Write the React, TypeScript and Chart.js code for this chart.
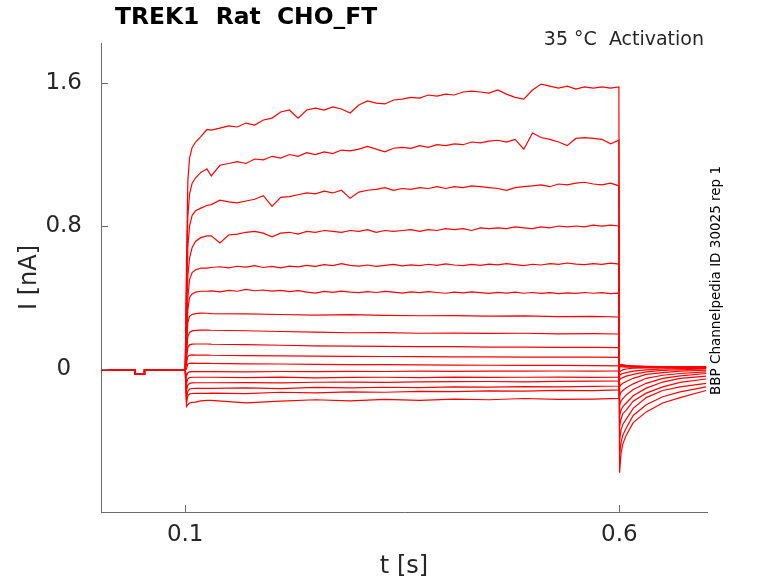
import { useEffect, useRef } from "react"
import { Chart, registerables } from "chart.js"

Chart.register(...registerables)

const AXIS_GREY = "#6b6b6b"
const TEXT_DARK = "#262626"
const TRACE_RED = "#ff0000"

const titleText = "TREK1  Rat  CHO_FT"
const conditionText = "35 °C  Activation"
const sideText = "BBP Channelpedia ID 30025 rep 1"

const xTickValues = [0.1, 0.6]
const yTickValues = [0, 0.8, 1.6]

// holding period, identical for every sweep
const preTimes = [0, 0.042, 0.0421, 0.053, 0.0531, 0.0995]
const preCurrent = [-0.006, -0.006, -0.03, -0.03, -0.006, -0.006]

const onsetTimes = [0.1, 0.1015, 0.103, 0.105, 0.108, 0.112, 0.118, 0.125]

const stepTimesFine = [
  0.13, 0.14, 0.15, 0.16, 0.17, 0.18, 0.19, 0.2, 0.21, 0.22,
  0.23, 0.24, 0.25, 0.26, 0.27, 0.28, 0.29, 0.3, 0.31, 0.32,
  0.33, 0.34, 0.35, 0.36, 0.37, 0.38, 0.39, 0.4, 0.41, 0.42,
  0.43, 0.44, 0.45, 0.46, 0.47, 0.48, 0.49, 0.5, 0.51, 0.52,
  0.53, 0.54, 0.55, 0.56, 0.57, 0.58, 0.59, 0.5995,
]
const stepTimesCoarse = [0.13, 0.17, 0.21, 0.25, 0.29, 0.33, 0.37, 0.41, 0.45, 0.49, 0.53, 0.57, 0.5995]

const tailTimes = [0.6003, 0.602, 0.604, 0.608, 0.616, 0.631, 0.65, 0.67, 0.7]

// current in nA, one row per sweep (largest first)
const onsetCurrents = [
  [-0.006, 0.6, 1.05, 1.18, 1.24, 1.27, 1.3, 1.34],
  [-0.006, 0.5, 0.85, 0.98, 1.04, 1.07, 1.1, 1.12],
  [-0.006, 0.4, 0.68, 0.8, 0.86, 0.885, 0.9, 0.915],
  [-0.006, 0.3, 0.52, 0.62, 0.68, 0.715, 0.735, 0.745],
  [-0.006, 0.2, 0.4, 0.5, 0.54, 0.555, 0.565, 0.565],
  [-0.006, 0.15, 0.33, 0.4, 0.42, 0.43, 0.435, 0.435],
  [-0.006, 0.12, 0.26, 0.295, 0.305, 0.31, 0.313, 0.312],
  [-0.006, 0.09, 0.18, 0.205, 0.213, 0.216, 0.218, 0.218],
  [-0.006, 0.06, 0.12, 0.135, 0.139, 0.14, 0.14, 0.14],
  [-0.006, 0.03, 0.07, 0.077, 0.079, 0.078, 0.078, 0.078],
  [-0.006, 0.0, 0.028, 0.032, 0.033, 0.032, 0.032, 0.032],
  [-0.006, -0.04, -0.02, -0.016, -0.015, -0.015, -0.015, -0.015],
  [-0.006, -0.08, -0.055, -0.048, -0.046, -0.046, -0.046, -0.046],
  [-0.006, -0.12, -0.09, -0.08, -0.078, -0.077, -0.077, -0.077],
  [-0.006, -0.16, -0.125, -0.112, -0.109, -0.108, -0.108, -0.108],
  [-0.006, -0.19, -0.15, -0.14, -0.137, -0.136, -0.136, -0.136],
  [-0.006, -0.21, -0.2, -0.19, -0.187, -0.185, -0.178, -0.175],
]

const stepCurrents = [
  [
    1.337, 1.348, 1.36, 1.354, 1.376, 1.365, 1.393, 1.404, 1.438, 1.449,
    1.404, 1.449, 1.46, 1.449, 1.466, 1.455, 1.432, 1.477, 1.5, 1.488,
    1.483, 1.505, 1.51, 1.52, 1.516, 1.533, 1.527, 1.538, 1.533, 1.55,
    1.555, 1.55, 1.544, 1.561, 1.538, 1.52, 1.51, 1.561, 1.594, 1.583,
    1.572, 1.583, 1.566, 1.578, 1.572, 1.578, 1.572, 1.578,
  ],
  [
    1.08, 1.14, 1.15, 1.16, 1.15, 1.175, 1.17, 1.19, 1.18, 1.2,
    1.19, 1.21, 1.2, 1.215, 1.205, 1.225, 1.22, 1.23, 1.245, 1.23,
    1.215, 1.235, 1.24, 1.235, 1.25, 1.24, 1.255, 1.25, 1.26, 1.255,
    1.27, 1.265, 1.275, 1.28, 1.27, 1.285, 1.23, 1.32, 1.295, 1.285,
    1.27, 1.25, 1.29, 1.295, 1.29, 1.285, 1.26, 1.28,
  ],
  [
    0.92, 0.945, 0.935, 0.93, 0.94, 0.95, 0.97, 0.91, 0.96, 0.965,
    0.975, 0.985, 0.98, 0.995, 0.985, 1.0, 0.955, 0.99, 1.0, 1.005,
    1.015, 1.0, 1.01, 1.005, 1.015, 1.01, 1.02, 1.01, 1.02, 1.015,
    1.025, 1.02, 1.015, 1.01, 1.0, 1.015, 1.02, 1.025, 1.03, 1.02,
    1.035, 1.03, 1.04, 1.045, 1.035, 1.03, 1.04, 1.025,
  ],
  [
    0.745, 0.705, 0.75, 0.755, 0.765, 0.77, 0.76, 0.74, 0.76, 0.765,
    0.755, 0.77, 0.765, 0.775, 0.77, 0.765, 0.775, 0.77, 0.78, 0.765,
    0.775, 0.77, 0.775, 0.78, 0.77, 0.78, 0.775, 0.785, 0.78, 0.785,
    0.775, 0.79, 0.785, 0.79, 0.785, 0.795, 0.79, 0.785, 0.795, 0.79,
    0.8, 0.795, 0.8, 0.795, 0.805, 0.8, 0.805, 0.8,
  ],
  [
    0.568, 0.572, 0.566, 0.575, 0.57, 0.578, 0.568, 0.574, 0.566, 0.576,
    0.572, 0.58, 0.574, 0.584, 0.578, 0.59, 0.58, 0.576, 0.582, 0.574,
    0.58, 0.585, 0.577, 0.583, 0.578, 0.586, 0.58, 0.588, 0.582, 0.578,
    0.585, 0.58, 0.587, 0.583, 0.59, 0.584, 0.579, 0.586, 0.582, 0.59,
    0.585, 0.593, 0.587, 0.584, 0.59, 0.586, 0.592, 0.587,
  ],
  [
    0.437, 0.432, 0.44, 0.435, 0.446, 0.438, 0.442, 0.436, 0.44, 0.433,
    0.438, 0.43, 0.425, 0.434, 0.429, 0.436, 0.43, 0.427, 0.433, 0.428,
    0.434, 0.43, 0.425, 0.431, 0.427, 0.433, 0.428, 0.424, 0.43, 0.426,
    0.431, 0.427, 0.423, 0.429, 0.425, 0.43, 0.424, 0.428, 0.423, 0.427,
    0.422, 0.426, 0.423, 0.428, 0.424, 0.427, 0.422, 0.425,
  ],
  [0.31, 0.308, 0.305, 0.302, 0.304, 0.3, 0.298, 0.299, 0.296, 0.297, 0.293, 0.295, 0.291],
  [0.217, 0.214, 0.21, 0.206, 0.203, 0.204, 0.2, 0.201, 0.199, 0.2, 0.197, 0.198, 0.196],
  [0.139, 0.136, 0.133, 0.13, 0.128, 0.127, 0.125, 0.125, 0.123, 0.122, 0.121, 0.121, 0.12],
  [0.077, 0.075, 0.074, 0.072, 0.071, 0.07, 0.069, 0.068, 0.068, 0.067, 0.066, 0.066, 0.065],
  [0.031, 0.029, 0.028, 0.026, 0.025, 0.024, 0.023, 0.022, 0.021, 0.02, 0.02, 0.019, 0.018],
  [-0.015, -0.016, -0.014, -0.015, -0.013, -0.014, -0.012, -0.013, -0.012, -0.012, -0.011, -0.012, -0.011],
  [-0.046, -0.048, -0.045, -0.05, -0.047, -0.046, -0.048, -0.045, -0.047, -0.046, -0.045, -0.047, -0.046],
  [-0.077, -0.076, -0.078, -0.074, -0.073, -0.075, -0.072, -0.071, -0.07, -0.072, -0.069, -0.068, -0.067],
  [-0.108, -0.105, -0.11, -0.103, -0.106, -0.102, -0.104, -0.1, -0.101, -0.098, -0.1, -0.097, -0.095],
  [-0.135, -0.138, -0.13, -0.133, -0.128, -0.13, -0.125, -0.127, -0.122, -0.124, -0.12, -0.121, -0.117],
  [-0.175, -0.19, -0.18, -0.172, -0.178, -0.17, -0.175, -0.168, -0.172, -0.165, -0.17, -0.168, -0.164],
]

const tailCurrents = [
  [-0.58, -0.47, -0.42, -0.37, -0.3, -0.24, -0.19, -0.16, -0.12],
  [-0.48, -0.41, -0.37, -0.33, -0.26, -0.2, -0.155, -0.128, -0.1],
  [-0.4, -0.34, -0.31, -0.28, -0.22, -0.16, -0.12, -0.1, -0.08],
  [-0.32, -0.28, -0.25, -0.23, -0.18, -0.135, -0.1, -0.075, -0.056],
  [-0.26, -0.23, -0.21, -0.19, -0.15, -0.107, -0.073, -0.052, -0.04],
  [-0.2, -0.18, -0.165, -0.145, -0.115, -0.08, -0.052, -0.038, -0.025],
  [-0.15, -0.13, -0.12, -0.105, -0.083, -0.052, -0.035, -0.025, -0.016],
  [-0.1, -0.088, -0.08, -0.07, -0.052, -0.03, -0.02, -0.012, -0.007],
  [-0.06, -0.052, -0.048, -0.04, -0.03, -0.016, -0.008, -0.004, 0.0],
  [-0.035, -0.03, -0.025, -0.02, -0.012, -0.005, 0.0, 0.002, 0.003],
  [-0.015, -0.01, -0.005, 0.0, 0.005, 0.006, 0.008, 0.006, 0.008],
  [0.012, 0.014, 0.012, 0.011, 0.01, 0.009, 0.008, 0.008, 0.007],
  [0.016, 0.018, 0.016, 0.014, 0.012, 0.011, 0.01, 0.009, 0.009],
  [0.018, 0.02, 0.018, 0.016, 0.014, 0.012, 0.011, 0.01, 0.01],
  [0.02, 0.022, 0.02, 0.018, 0.015, 0.013, 0.012, 0.011, 0.011],
  [0.022, 0.024, 0.022, 0.019, 0.016, 0.014, 0.013, 0.012, 0.012],
  [0.024, 0.026, 0.024, 0.02, 0.017, 0.015, 0.014, 0.013, 0.012],
]

function buildSweep(i: number) {
  const step = stepCurrents[i]
  const stepTimes = step.length === stepTimesFine.length ? stepTimesFine : stepTimesCoarse
  const times = [...preTimes, ...onsetTimes, ...stepTimes, ...tailTimes]
  const values = [...preCurrent, ...onsetCurrents[i], ...step, ...tailCurrents[i]]
  return times.map((t, k) => ({ x: t, y: values[k] }))
}

// inward tick marks + free text around the axes
const decorations = {
  id: "decorations",
  afterDraw(chart: Chart) {
    const { ctx, chartArea, scales } = chart
    ctx.save()
    ctx.strokeStyle = AXIS_GREY
    ctx.lineWidth = 1
    for (const v of xTickValues) {
      const px = Math.round(scales.x.getPixelForValue(v)) + 0.5
      ctx.beginPath()
      ctx.moveTo(px, chartArea.bottom)
      ctx.lineTo(px, chartArea.bottom - 7)
      ctx.stroke()
    }
    for (const v of yTickValues) {
      const py = Math.round(scales.y.getPixelForValue(v)) + 0.5
      ctx.beginPath()
      ctx.moveTo(chartArea.left, py)
      ctx.lineTo(chartArea.left + 7, py)
      ctx.stroke()
    }

    ctx.fillStyle = "#000"
    ctx.textBaseline = "middle"
    ctx.textAlign = "left"
    ctx.font = "bold 23.4px 'DejaVu Sans'"
    ctx.fillText(titleText, 115, 18)

    ctx.fillStyle = TEXT_DARK
    ctx.textAlign = "right"
    ctx.font = "19px 'DejaVu Sans'"
    ctx.fillText(conditionText, 704, 40)

    ctx.translate(716, 395)
    ctx.rotate(-Math.PI / 2)
    ctx.textAlign = "left"
    ctx.fillStyle = "#000"
    ctx.font = "13.5px 'DejaVu Sans'"
    ctx.fillText(sideText, 0, 0)
    ctx.restore()
  },
}

export default function App() {
  const chartRef = useRef<HTMLCanvasElement>(null)
  const chartInstance = useRef<Chart | null>(null)

  useEffect(() => {
    if (!chartRef.current) return
    if (chartInstance.current) chartInstance.current.destroy()

    Chart.defaults.font.family = "'DejaVu Sans', sans-serif"

    const datasets = onsetCurrents.map((_, i) => ({
      label: `sweep ${i + 1}`,
      data: buildSweep(i),
      borderColor: TRACE_RED,
      borderWidth: 1.2,
      pointRadius: 0,
      tension: 0,
      fill: false,
    }))

    chartInstance.current = new Chart(chartRef.current, {
      type: "line",
      data: { datasets },
      options: {
        animation: false,
        responsive: true,
        maintainAspectRatio: false,
        layout: { padding: { top: 43, right: 71, left: 0, bottom: 0 } },
        scales: {
          x: {
            type: "linear",
            min: 0.003,
            max: 0.701,
            afterFit: (scale) => {
              scale.height = 71
            },
            afterBuildTicks: (scale) => {
              scale.ticks = xTickValues.map((v) => ({ value: v }))
            },
            ticks: {
              color: TEXT_DARK,
              font: { size: 23 },
              padding: 9,
              maxRotation: 0,
              callback: (v) => String(v),
            },
            grid: { display: false, drawTicks: false },
            border: { display: true, color: AXIS_GREY, width: 1 },
            title: {
              display: true,
              text: "t [s]",
              color: TEXT_DARK,
              font: { size: 24 },
              padding: { top: 0, bottom: 2 },
            },
          },
          y: {
            type: "linear",
            min: -0.8,
            max: 1.824,
            afterFit: (scale) => {
              scale.width = 101
            },
            afterBuildTicks: (scale) => {
              scale.ticks = yTickValues.map((v) => ({ value: v }))
            },
            ticks: {
              color: TEXT_DARK,
              font: { size: 23 },
              padding: 19,
              crossAlign: "center",
              callback: (v) => String(v),
            },
            grid: { display: false, drawTicks: false },
            border: { display: true, color: AXIS_GREY, width: 1 },
            title: {
              display: true,
              text: "I [nA]",
              color: TEXT_DARK,
              font: { size: 24 },
              padding: { top: 15, bottom: 0 },
            },
          },
        },
        plugins: {
          legend: { display: false },
          tooltip: { enabled: false },
        },
      },
      plugins: [decorations],
    })

    return () => {
      if (chartInstance.current) {
        chartInstance.current.destroy()
        chartInstance.current = null
      }
    }
  }, [])

  return (
    <div style={{ position: "absolute", left: 0, top: 0, width: 778, height: 583, background: "#fff" }}>
      <canvas ref={chartRef} />
    </div>
  )
}
